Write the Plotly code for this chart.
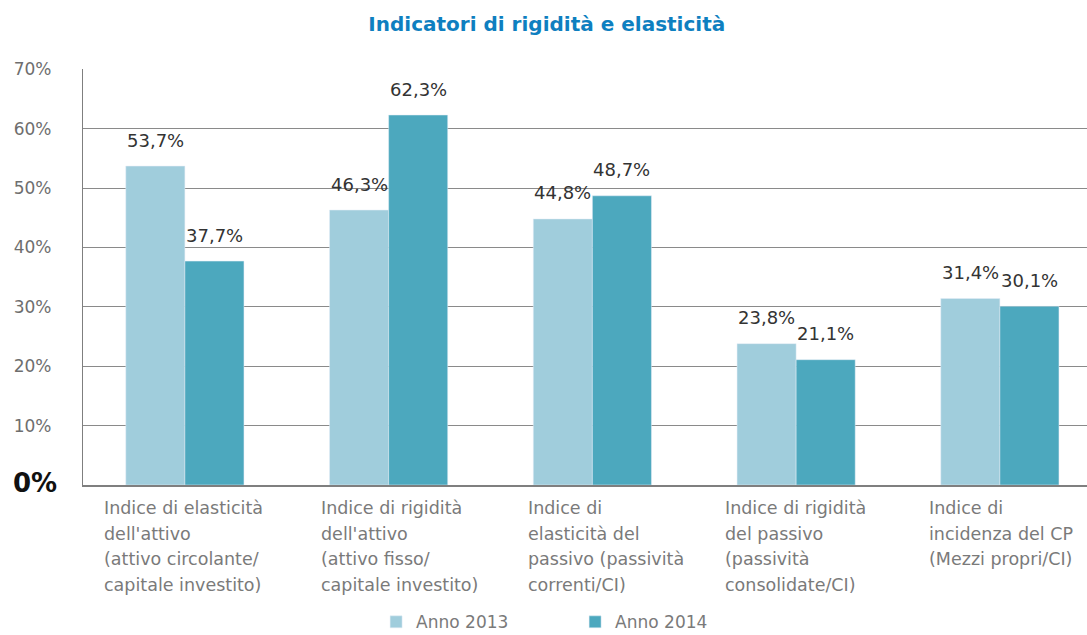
import plotly.graph_objects as go

# data
categories = [
    "Indice di elasticità<br>dell'attivo<br>(attivo circolante/<br>capitale investito)",
    "Indice di rigidità<br>dell'attivo<br>(attivo fisso/<br>capitale investito)",
    "Indice di<br>elasticità del<br>passivo (passività<br>correnti/CI)",
    "Indice di rigidità<br>del passivo<br>(passività<br>consolidate/CI)",
    "Indice di<br>incidenza del CP<br>(Mezzi propri/CI)",
]
anno_2013 = [53.7, 46.3, 44.8, 23.8, 31.4]
anno_2014 = [37.7, 62.3, 48.7, 21.1, 30.1]
series_names = ["Anno 2013", "Anno 2014"]
y_ticks = [0, 10, 20, 30, 40, 50, 60, 70]

# style
font = "DejaVu Sans"
col_2013 = "#A0CDDC"
col_2014 = "#4CA8BE"
label_xshift = [-83, -70, -66, -73, -73]  # left edge of each category caption vs. category centre

x = list(range(len(categories)))

fig = go.Figure()
fig.add_trace(go.Bar(x=x, y=anno_2013, name=series_names[0], marker_color=col_2013,
                     hoverinfo="y"))
fig.add_trace(go.Bar(x=x, y=anno_2014, name=series_names[1], marker_color=col_2014,
                     hoverinfo="y"))

# value labels above the bars
for vals, dx in [(anno_2013, -29.5), (anno_2014, 29.5)]:
    for i, v in enumerate(vals):
        fig.add_annotation(x=i, y=v, xshift=dx, yshift=26, yanchor="middle",
                           text=f"{v:.1f}%".replace(".", ","), showarrow=False,
                           font=dict(family=font, size=18, color="#333333"))

# category captions, left aligned, one annotation per line
for i, cat in enumerate(categories):
    for j, line in enumerate(cat.split("<br>")):
        fig.add_annotation(x=i, y=0, yref="paper", xanchor="left", yanchor="middle",
                           xshift=label_xshift[i], yshift=-23 - 25.5 * j,
                           text=line, showarrow=False,
                           font=dict(family=font, size=17.5, color="#7a7a7a"))

# the bold zero label sits a little closer to the axis than the others
tick_text = [""] + [f"{t}%" for t in y_ticks[1:]]
fig.add_annotation(x=0, xref="paper", y=y_ticks[0], xanchor="right", yanchor="middle",
                   xshift=-24, yshift=2, text=f"<b>{y_ticks[0]}%</b>", showarrow=False,
                   font=dict(family=font, size=26, color="#111111"))

fig.update_layout(
    width=1087, height=635,
    margin=dict(l=83, r=0, t=69, b=150),
    paper_bgcolor="white", plot_bgcolor="white",
    barmode="group", bargap=0.42, bargroupgap=0,
    title=dict(text="<b>Indicatori di rigidità e elasticità</b>", x=0.503, xref="container",
               xanchor="center", y=0.962, yanchor="middle",
               font=dict(family=font, size=20, color="#0E7FC0")),
    xaxis=dict(range=[-0.5, 4.4276], showticklabels=False, showgrid=False, zeroline=False,
               showline=True, linecolor="#7f7f7f", linewidth=1.5, fixedrange=True,
               automargin=False),
    yaxis=dict(range=[0, 70.05], tickvals=y_ticks, ticktext=tick_text, showgrid=True,
               gridcolor="#8a8a8a", gridwidth=1, zeroline=False, showline=True,
               linecolor="#7f7f7f", linewidth=1.2, ticklabelstandoff=27, automargin=False,
               tickfont=dict(family=font, size=17, color="#6e6e6e")),
    legend=dict(orientation="h", xref="container", yref="container", x=0.346, y=0.02,
                xanchor="left", yanchor="middle", entrywidth=154,
                font=dict(family=font, size=17, color="#7a7a7a")),
    showlegend=True,
)

fig.write_html("out.html", config={"displayModeBar": False},
               post_script="document.body.style.margin='0';")
